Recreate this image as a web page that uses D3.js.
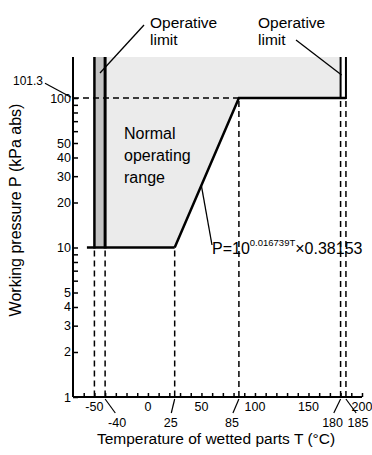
<!DOCTYPE html>
<html><head><meta charset="utf-8">
<script src="https://cdn.jsdelivr.net/npm/d3@7"></script>
<style>
body{margin:0;background:#fff;}
svg{display:block;font-family:"Liberation Sans",Arial,sans-serif;}
</style></head>
<body><svg id="c" width="372" height="455"></svg>
<script>
// ---- data ----
const xDomain = [-70, 200];
const xMinorTicks = d3.range(-60, 201, 10);
const xTickLabels = [-50, 0, 50, 100, 150, 200];
const xCallouts = [-40, 25, 85, 180, 185];
const yDomain = [1, 100];
const yTop = 188;
const yTicks = [1,2,3,4,5,6,7,8,9,10,20,30,40,50,60,70,80,90,100];
const yTickLabels = [1,2,3,4,5,10,20,30,40,50,100];
const atmPressure = 101.3;
const lowLimits = [-50, -40];
const highLimits = [180, 185];
const boundaryT = [-40, 25, 85, 185];
const boundaryP = [10, 10, 100, 100];
const lowerLineStartT = -57;

// ---- layout ----
const svg = d3.select("#c");
const x = d3.scaleLinear().domain(xDomain).range([73, 362]);
const y = d3.scaleLog().domain(yDomain).range([397, 98]);
const yT = y(yTop);

// dark strip between low limits
svg.append("rect").attr("x", x(lowLimits[0])).attr("y", yT)
  .attr("width", x(lowLimits[1]) - x(lowLimits[0])).attr("height", y(10) - yT)
  .attr("fill", "#c3c3c3");
// light operating region
const regionPts = [[lowLimits[1], yTop], [boundaryT[0], boundaryP[0]], [boundaryT[1], boundaryP[1]],
  [boundaryT[2], boundaryP[2]], [highLimits[0], boundaryP[3]], [highLimits[0], yTop]];
svg.append("path").attr("d", d3.line().x(d=>x(d[0])).y(d=>y(d[1]))(regionPts))
  .attr("fill", "#ebebeb");

// dashed guides
const dash = "6,4";
svg.append("line").attr("x1", x(xDomain[0])).attr("x2", x(boundaryT[2])).attr("y1", y(100)).attr("y2", y(100))
  .attr("stroke","#000").attr("stroke-width",1.5).attr("stroke-dasharray",dash);
lowLimits.concat([boundaryT[1]]).forEach(t=>{
  svg.append("line").attr("x1",x(t)).attr("x2",x(t)).attr("y1",y(10)+3).attr("y2",y(1))
    .attr("stroke","#000").attr("stroke-width",1.5).attr("stroke-dasharray",dash);
});
[boundaryT[2]].concat(highLimits).forEach(t=>{
  svg.append("line").attr("x1",x(t)).attr("x2",x(t)).attr("y1",y(100)+3).attr("y2",y(1))
    .attr("stroke","#000").attr("stroke-width",1.5).attr("stroke-dasharray",dash);
});

// solid boundary lines
svg.append("line").attr("x1",x(lowerLineStartT)).attr("x2",x(boundaryT[1])).attr("y1",y(10)).attr("y2",y(10))
  .attr("stroke","#000").attr("stroke-width",2.5);
svg.append("path").attr("d", d3.line().x(d=>x(d[0])).y(d=>y(d[1]))(
    boundaryT.slice(1).map((t,i)=>[t, boundaryP[i+1]])))
  .attr("fill","none").attr("stroke","#000").attr("stroke-width",2.5).attr("stroke-linejoin","miter");
lowLimits.forEach((t,i)=>{
  svg.append("line").attr("x1",x(t)).attr("x2",x(t)).attr("y1",yT).attr("y2",y(10)+1)
    .attr("stroke","#000").attr("stroke-width", i===0?2.5:3);
});
highLimits.forEach(t=>{
  svg.append("line").attr("x1",x(t)).attr("x2",x(t)).attr("y1",yT).attr("y2",y(100)+1)
    .attr("stroke","#000").attr("stroke-width",2);
});

// axes
const xAxis = d3.axisBottom(x).tickValues(xMinorTicks).tickSizeInner(-4).tickSizeOuter(0)
  .tickFormat(()=>"");
const gx = svg.append("g").attr("transform",`translate(0,${y(1)})`).call(xAxis);
gx.select(".domain").attr("stroke-width",2).attr("d",`M${x(xDomain[0])},0H${x(xDomain[1])}`);
gx.selectAll(".tick line").attr("stroke-width",1.5);
xTickLabels.forEach(v=>{
  svg.append("text").attr("x",x(v)).attr("y",y(1)+14).attr("text-anchor","middle")
    .attr("font-size",12.5).text(v);
});
const calloutDx = {"-40":12, "25":-4, "85":-7, "180":-8, "185":12};
xCallouts.forEach(v=>{
  const dx = calloutDx[String(v)];
  svg.append("line").attr("x1",x(v)).attr("y1",y(1)+2).attr("x2",x(v)+dx*0.85).attr("y2",y(1)+16)
    .attr("stroke","#000").attr("stroke-width",1.2);
  svg.append("text").attr("x",x(v)+dx).attr("y",y(1)+30).attr("text-anchor","middle")
    .attr("font-size",12.5).text(v);
});

const yAxis = d3.axisLeft(y).tickValues(yTicks).tickSizeInner(-5).tickSizeOuter(0).tickFormat(()=>"");
const gy = svg.append("g").attr("transform",`translate(${x(xDomain[0])},0)`).call(yAxis);
gy.select(".domain").attr("stroke-width",2).attr("d",`M0,${yT}V${y(1)}`);
gy.selectAll(".tick line").attr("stroke-width",1.5);
yTickLabels.forEach(v=>{
  svg.append("text").attr("x",x(xDomain[0])-2).attr("y",y(v)+4.5).attr("text-anchor","end")
    .attr("font-size",12.5).text(v);
});
// 101.3 callout
svg.append("text").attr("x",43).attr("y",y(atmPressure)-12).attr("text-anchor","end")
  .attr("font-size",12).text(atmPressure);
svg.append("line").attr("x1",45).attr("y1",y(atmPressure)-14).attr("x2",x(xDomain[0])-2).attr("y2",y(atmPressure))
  .attr("stroke","#000").attr("stroke-width",1.2);

// axis titles
svg.append("text").attr("x",216).attr("y",444).attr("text-anchor","middle")
  .attr("font-size",15.5).text("Temperature of wetted parts T (°C)");
svg.append("text").attr("transform","translate(21,210) rotate(-90)").attr("text-anchor","middle")
  .attr("font-size",16).text("Working pressure P (kPa abs)");

// annotations
function opLabel(tx, lx1, ly1, lx2, ly2){
  const t = svg.append("text").attr("x",tx).attr("y",28).attr("font-size",15.5);
  t.append("tspan").attr("x",tx).text("Operative");
  t.append("tspan").attr("x",tx).attr("dy",17).text("limit");
  svg.append("line").attr("x1",lx1).attr("y1",ly1).attr("x2",lx2).attr("y2",ly2)
    .attr("stroke","#000").attr("stroke-width",1.3);
}
opLabel(150, 144, 25, 100, 73);
opLabel(258, 296, 40, x(highLimits[0])+1, 75);

const nr = svg.append("text").attr("font-size",16);
["Normal","operating","range"].forEach((s,i)=>{
  nr.append("tspan").attr("x",124).attr("y",139+i*22).text(s);
});

// formula
const fx = 212, fy = 254;
const pLead = 26;
const tLead = boundaryT[1] + (boundaryT[2]-boundaryT[1]) * (Math.log10(pLead) - 1);
svg.append("line").attr("x1",x(tLead)).attr("y1",y(pLead))
  .attr("x2",fx).attr("y2",fy-9).attr("stroke","#000").attr("stroke-width",1.3);
const ft = svg.append("text").attr("x",fx).attr("y",fy).attr("font-size",16);
ft.append("tspan").text("P=10");
ft.append("tspan").attr("font-size",9.5).attr("dy",-8).text("0.016739T");
ft.append("tspan").attr("dy",8).text("×0.38153");
</script></body></html>
